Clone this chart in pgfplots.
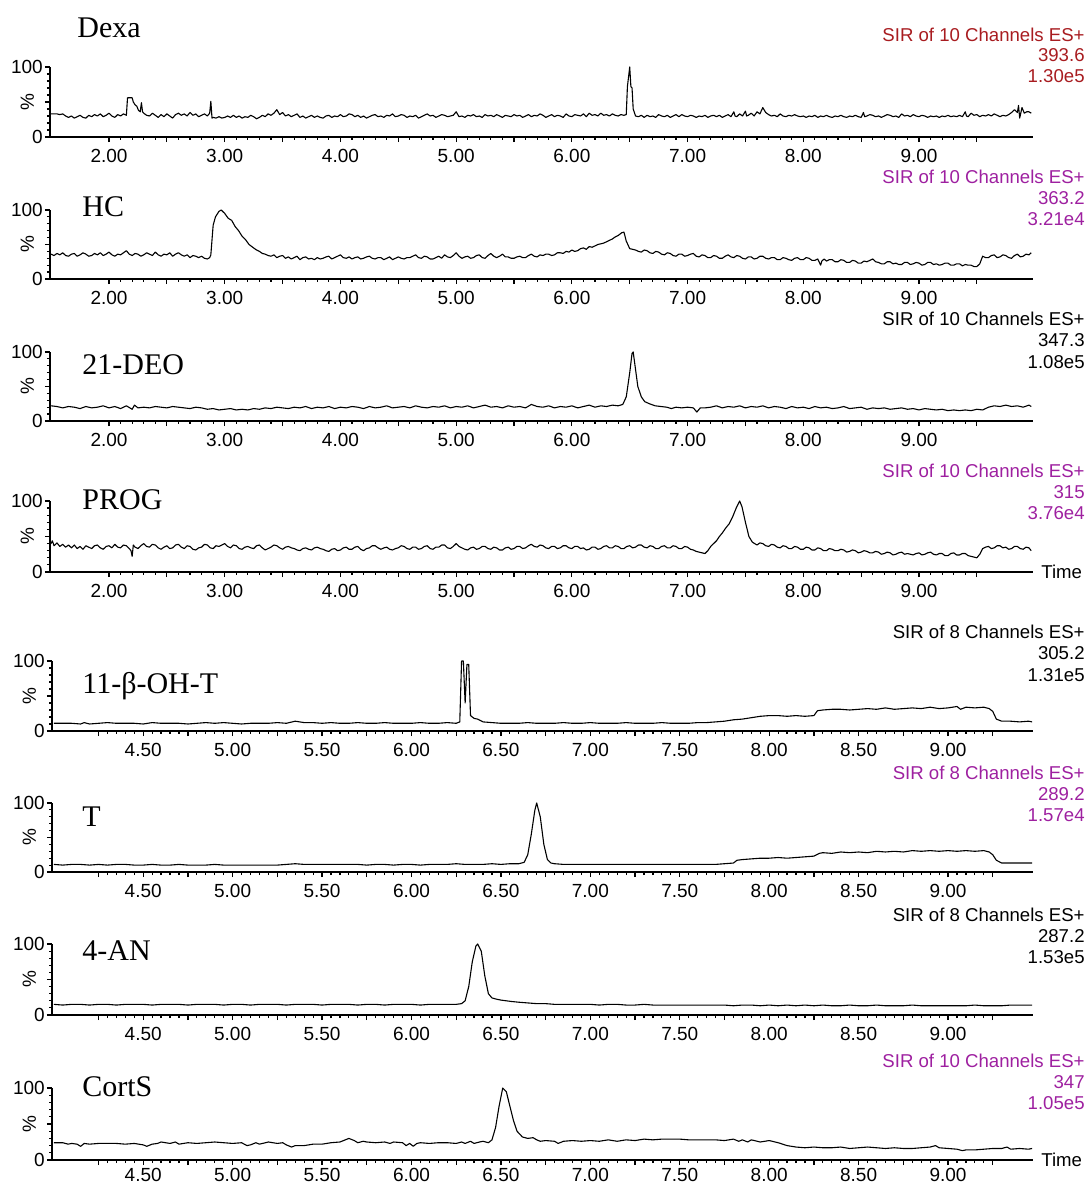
\documentclass[border=0pt]{standalone}
\usepackage{fontspec}
\setmainfont{Liberation Sans}
\newfontfamily\serifnames{Liberation Serif}
\usepackage{pgfplots}
\pgfplotsset{compat=1.18}
\definecolor{sirred}{RGB}{168,28,32}
\definecolor{sirmag}{RGB}{158,32,160}
\pgfplotsset{
 chrom/.style={
  scale only axis, height=35pt,
  axis x line=bottom, axis y line=left,
  axis line style={line width=0.8pt,-},
  ymin=0, ymax=100, ytick={0,50,100}, yticklabels={0,,100},
  minor y tick num=4,
  tick align=outside, major tick length=2.6pt, minor tick length=1.5pt,
  every tick/.style={black,line width=0.6pt},
  tick label style={font=\fontsize{9.5}{10}\selectfont},
  yticklabel style={xshift=2.5pt},
  /pgf/number format/assume math mode=true,
  clip=false,
  ylabel={\%},
  ylabel style={at={(axis description cs:-0.023,0.5)}, anchor=center, font=\fontsize{9.5}{10}\selectfont},
 },
 toppanel/.style={chrom, width=491.5pt, xmin=1.49, xmax=9.985,
  xtick={2,2.5,3,3.5,4,4.5,5,5.5,6,6.5,7,7.5,8,8.5,9,9.5},
  xticklabels={2.00,,3.00,,4.00,,5.00,,6.00,,7.00,,8.00,,9.00,},
  minor x tick num=4},
 botpanel/.style={chrom, width=490.5pt, xmin=3.99, xmax=9.475,
  xtick={4.25,4.5,4.75,5,5.25,5.5,5.75,6,6.25,6.5,6.75,7,7.25,7.5,7.75,8,8.25,8.5,8.75,9,9.25},
  xticklabels={,4.50,,5.00,,5.50,,6.00,,6.50,,7.00,,7.50,,8.00,,8.50,,9.00,},
  minor x tick num=4},
 trace/.style={black, line width=0.55pt, mark=none, line join=round},
}
\newcommand{\sirlabel}[3]{%
 \node[anchor=east,inner sep=0pt,text=#1,font=\fontsize{9.3}{10}\selectfont] at (542.5pt,#2) {SIR of #3 Channels ES+};}
\newcommand{\sirline}[3]{%
 \node[anchor=east,inner sep=0pt,text=#1,font=\fontsize{9.3}{10}\selectfont] at (542.5pt,#2) {#3};}
\newcommand{\cname}[3]{%
 \node[anchor=base west,inner sep=0pt,font=\serifnames\fontsize{15}{16}\selectfont] at (#1,#2) {#3};}
\begin{document}
\begin{tikzpicture}
\useasboundingbox (0,0) rectangle (544.5pt,592.5pt);

% ---------- Panel 1: Dexa ----------
\begin{axis}[toppanel, at={(25pt,524pt)}, anchor=south west, height=35pt]
\addplot[trace] coordinates {
(1.500,33)(1.525,33)(1.550,33)(1.575,32)(1.600,33)(1.625,30)(1.650,28)(1.675,30)(1.700,27)(1.725,29)
(1.750,31)(1.775,28)(1.800,27)(1.825,31)(1.850,29)(1.875,32)(1.900,30)(1.925,33)(1.950,29)(1.975,31)
(2.000,34)(2.025,30)(2.050,28)(2.075,32)(2.100,30)(2.125,33)(2.150,31)(2.160,56)(2.200,56)(2.210,50)
(2.225,46)(2.240,44)(2.255,38)(2.270,36)(2.280,49)(2.290,36)(2.300,34)(2.325,31)
(2.350,30)(2.375,34)(2.400,31)(2.425,28)(2.450,32)(2.475,29)(2.500,33)(2.525,30)(2.550,27)(2.575,32)
(2.600,34)(2.625,31)(2.650,33)(2.675,30)(2.700,35)(2.725,31)(2.750,33)(2.775,29)(2.800,31)(2.825,33)
(2.850,30)(2.870,34)(2.880,51)(2.890,27)(2.900,28)(2.925,27)(2.950,29)(2.975,27)(3.000,28)(3.025,30)
(3.050,28)(3.075,31)(3.100,28)(3.125,30)(3.150,27)(3.175,29)(3.200,28)(3.225,31)(3.250,29)(3.275,26)
(3.300,28)(3.325,31)(3.350,29)(3.375,33)(3.400,31)(3.425,34)(3.450,39)(3.475,32)(3.500,35)(3.525,30)
(3.550,32)(3.575,29)(3.600,31)(3.625,33)(3.650,28)(3.675,30)(3.700,27)(3.725,29)(3.750,31)(3.775,28)
(3.800,30)(3.825,28)(3.850,27)(3.875,30)(3.900,31)(3.925,28)(3.950,30)(3.975,29)(4.000,32)(4.025,29)
(4.050,30)(4.075,33)(4.100,32)(4.125,29)(4.150,31)(4.175,28)(4.200,30)(4.225,27)(4.250,29)(4.275,31)
(4.300,32)(4.325,29)(4.350,30)(4.375,28)(4.400,31)(4.425,30)(4.450,33)(4.475,29)(4.500,30)(4.525,32)
(4.550,31)(4.575,28)(4.600,30)(4.625,29)(4.650,31)(4.675,27)(4.700,29)(4.725,31)(4.750,33)(4.775,30)
(4.800,31)(4.825,28)(4.850,30)(4.875,32)(4.900,31)(4.925,29)(4.950,30)(4.975,31)(5.000,36)(5.025,29)
(5.050,30)(5.075,28)(5.100,31)(5.125,30)(5.150,32)(5.175,29)(5.200,30)(5.225,28)(5.250,32)(5.275,30)
(5.300,31)(5.325,29)(5.350,32)(5.375,30)(5.400,28)(5.425,31)(5.450,30)(5.475,29)(5.500,32)(5.525,30)
(5.550,31)(5.575,28)(5.600,30)(5.625,32)(5.650,29)(5.675,31)(5.700,30)(5.725,33)(5.750,31)(5.775,28)
(5.800,30)(5.825,32)(5.850,29)(5.875,31)(5.900,30)(5.925,28)(5.950,33)(5.975,30)(6.000,29)(6.025,32)
(6.050,31)(6.075,30)(6.100,33)(6.125,29)(6.150,34)(6.175,31)(6.200,32)(6.225,30)(6.250,34)(6.275,31)
(6.300,32)(6.325,30)(6.350,33)(6.375,31)(6.400,30)(6.425,32)(6.450,31)(6.470,32)(6.480,72)(6.500,100)
(6.510,72)(6.520,70)(6.530,40)(6.550,30)
(6.575,29)(6.600,31)(6.625,28)(6.650,31)(6.675,29)(6.700,30)(6.725,28)(6.750,32)(6.775,30)(6.800,29)
(6.825,31)(6.850,28)(6.875,30)(6.900,32)(6.925,29)(6.950,32)(6.975,30)(7.000,29)(7.025,31)(7.050,30)
(7.075,28)(7.100,30)(7.125,29)(7.150,31)(7.175,28)(7.200,30)(7.225,31)(7.250,29)(7.275,31)(7.300,28)
(7.325,30)(7.350,32)(7.375,29)(7.400,36)(7.410,30)(7.425,29)(7.450,33)(7.475,30)(7.500,37)(7.510,30)(7.525,31)
(7.550,34)(7.575,30)(7.600,36)(7.625,33)(7.650,42)(7.675,35)(7.700,32)(7.725,30)(7.750,31)(7.775,29)
(7.800,33)(7.825,30)(7.850,29)(7.875,31)(7.900,30)(7.925,32)(7.950,30)(7.975,29)(8.000,30)(8.025,28)
(8.050,30)(8.075,29)(8.100,31)(8.125,28)(8.150,30)(8.175,29)(8.200,31)(8.225,29)(8.250,28)(8.275,30)
(8.300,29)(8.325,31)(8.350,29)(8.375,28)(8.400,30)(8.425,29)(8.450,31)(8.475,29)(8.500,28)(8.520,35)(8.530,29)
(8.550,30)(8.575,32)(8.600,31)(8.625,29)(8.650,30)(8.675,28)(8.700,30)(8.725,32)(8.750,31)(8.775,29)
(8.800,30)(8.825,28)(8.850,33)(8.875,30)(8.900,31)(8.925,29)(8.950,32)(8.975,30)(9.000,29)(9.025,31)
(9.050,30)(9.075,28)(9.100,30)(9.125,29)(9.150,30)(9.175,28)(9.200,30)(9.225,29)(9.250,31)(9.275,29)
(9.300,30)(9.325,29)(9.350,31)(9.375,29)(9.400,36)(9.410,30)(9.425,29)(9.450,34)(9.475,31)(9.500,32)
(9.525,29)(9.550,31)(9.575,30)(9.600,32)(9.625,30)(9.650,33)(9.675,31)(9.700,29)(9.725,31)(9.750,30)
(9.775,32)(9.800,35)(9.825,39)(9.850,35)(9.860,45)(9.870,27)(9.890,42)(9.910,34)(9.930,36)(9.950,36)(9.970,34)};
\end{axis}

% ---------- Panel 2: HC ----------
\begin{axis}[toppanel, at={(25pt,453pt)}, anchor=south west, height=34.5pt]
\addplot[trace] coordinates {
(1.500,36)(1.525,34)(1.550,37)(1.575,35)(1.600,38)(1.625,34)(1.650,33)(1.675,36)(1.700,37)(1.725,33)
(1.750,35)(1.775,38)(1.800,36)(1.825,33)(1.850,34)(1.875,37)(1.900,35)(1.925,38)(1.950,34)(1.975,36)
(2.000,39)(2.025,35)(2.050,33)(2.075,36)(2.100,35)(2.125,38)(2.150,41)(2.175,36)(2.200,34)(2.225,37)
(2.250,36)(2.275,33)(2.300,35)(2.325,38)(2.350,36)(2.375,34)(2.400,39)(2.425,35)(2.450,33)(2.475,36)
(2.500,35)(2.525,38)(2.550,33)(2.575,36)(2.600,38)(2.625,35)(2.650,33)(2.675,35)(2.700,31)(2.725,34)
(2.750,33)(2.775,31)(2.800,33)(2.825,30)(2.850,29)(2.870,31)(2.880,35)(2.900,78)(2.920,90)(2.950,98)
(2.970,100)(3.000,95)(3.030,88)(3.060,85)(3.090,76)(3.120,70)(3.150,62)(3.180,57)(3.210,50)(3.250,45)
(3.275,42)(3.300,40)(3.325,37)
(3.350,36)(3.375,34)(3.400,33)(3.425,35)(3.450,31)(3.475,33)(3.500,34)(3.525,30)(3.550,32)(3.575,29)
(3.600,31)(3.625,33)(3.650,28)(3.675,31)(3.700,32)(3.725,29)(3.750,30)(3.775,28)(3.800,31)(3.825,29)
(3.850,30)(3.875,32)(3.900,33)(3.925,29)(3.950,31)(3.975,33)(4.000,35)(4.025,31)(4.050,30)(4.075,32)
(4.100,29)(4.125,31)(4.150,32)(4.175,29)(4.200,30)(4.225,32)(4.250,33)(4.275,30)(4.300,29)(4.325,31)
(4.350,31)(4.375,28)(4.400,30)(4.425,32)(4.450,28)(4.475,30)(4.500,32)(4.525,30)(4.550,29)(4.575,31)
(4.600,31)(4.625,33)(4.650,35)(4.675,31)(4.700,30)(4.725,33)(4.750,32)(4.775,29)(4.800,29)(4.825,31)
(4.850,33)(4.875,30)(4.900,35)(4.925,32)(4.950,31)(4.975,34)(5.000,38)(5.025,33)(5.050,30)(5.075,32)
(5.100,33)(5.125,30)(5.150,31)(5.175,34)(5.200,35)(5.225,31)(5.250,30)(5.275,34)(5.300,37)(5.325,33)
(5.350,31)(5.375,33)(5.400,36)(5.425,32)(5.450,32)(5.475,30)(5.500,30)(5.525,32)(5.550,33)(5.575,31)
(5.600,31)(5.625,34)(5.650,36)(5.675,33)(5.700,32)(5.725,35)(5.750,34)(5.775,36)(5.800,36)(5.825,34)
(5.850,35)(5.875,38)(5.900,38)(5.925,37)(5.950,40)(5.975,39)(6.000,42)(6.025,40)(6.050,41)(6.075,44)
(6.100,45)(6.125,43)(6.150,47)(6.175,46)(6.200,48)(6.225,50)(6.250,51)(6.275,52)(6.300,54)(6.325,56)
(6.350,58)(6.375,61)(6.400,63)(6.430,67)(6.450,68)(6.470,55)(6.500,44)(6.525,43)(6.550,42)(6.575,40)
(6.600,39)(6.625,42)(6.650,41)(6.675,38)(6.700,37)(6.725,40)(6.750,39)(6.775,36)(6.800,35)(6.825,38)
(6.850,37)(6.875,34)(6.900,33)(6.925,36)(6.950,36)(6.975,33)(7.000,34)(7.025,36)(7.050,37)(7.075,33)
(7.100,32)(7.125,35)(7.150,34)(7.175,31)(7.200,31)(7.225,34)(7.250,33)(7.275,30)(7.300,30)(7.325,33)
(7.350,35)(7.375,32)(7.400,31)(7.425,34)(7.450,33)(7.475,30)(7.500,29)(7.525,32)(7.550,32)(7.575,29)
(7.600,30)(7.625,33)(7.650,33)(7.675,30)(7.700,29)(7.725,31)(7.750,31)(7.775,28)(7.800,28)(7.825,31)
(7.850,30)(7.875,28)(7.900,27)(7.925,30)(7.950,31)(7.975,28)(8.000,28)(8.025,31)(8.050,30)(8.075,27)
(8.100,27)(8.125,29)(8.150,20)(8.160,26)(8.180,29)(8.200,26)(8.225,28)(8.250,28)(8.275,25)(8.300,25)(8.325,28)
(8.350,27)(8.375,24)(8.400,24)(8.425,27)(8.450,26)(8.475,23)(8.500,23)(8.525,26)(8.550,25)(8.575,27)
(8.600,29)(8.625,25)(8.650,24)(8.675,22)(8.700,22)(8.725,25)(8.750,25)(8.775,22)(8.800,23)(8.825,21)
(8.850,21)(8.875,24)(8.900,24)(8.925,21)(8.950,22)(8.975,24)(9.000,23)(9.025,20)(9.050,21)(9.075,24)
(9.100,24)(9.125,21)(9.150,22)(9.175,20)(9.200,21)(9.225,23)(9.250,23)(9.275,20)(9.300,20)(9.325,22)
(9.350,22)(9.375,19)(9.400,21)(9.425,20)(9.450,20)(9.475,18)(9.500,18)(9.525,22)(9.550,33)(9.575,31)
(9.600,31)(9.625,34)(9.650,35)(9.675,31)(9.700,32)(9.725,35)(9.750,34)(9.775,31)(9.800,30)(9.825,34)
(9.850,36)(9.875,32)(9.900,33)(9.925,36)(9.950,35)(9.970,38)};
\end{axis}

% ---------- Panel 3: 21-DEO ----------
\begin{axis}[toppanel, at={(25pt,382pt)}, anchor=south west, height=34.5pt]
\addplot[trace] coordinates {
(1.50,22)(1.55,21)(1.60,19)(1.65,21)(1.70,20)(1.75,18)(1.80,21)(1.85,19)(1.90,20)(1.95,22)
(2.00,19)(2.05,21)(2.10,18)(2.15,22)(2.20,17)(2.22,23)(2.25,19)(2.30,20)(2.35,19)(2.40,21)
(2.45,20)(2.50,19)(2.55,21)(2.60,20)(2.65,19)(2.70,18)(2.75,20)(2.80,19)(2.85,17)(2.90,18)
(2.95,16)(3.00,17)(3.05,18)(3.10,16)(3.15,17)(3.20,16)(3.25,18)(3.30,17)(3.35,19)(3.40,18)
(3.45,20)(3.50,19)(3.55,18)(3.60,20)(3.65,19)(3.70,21)(3.75,18)(3.80,20)(3.85,19)(3.90,21)
(3.95,18)(4.00,20)(4.05,19)(4.10,21)(4.15,20)(4.20,18)(4.25,21)(4.30,19)(4.35,20)(4.40,22)
(4.45,19)(4.50,20)(4.55,21)(4.60,19)(4.65,22)(4.70,20)(4.75,19)(4.80,21)(4.85,20)(4.90,22)
(4.95,19)(5.00,21)(5.05,20)(5.10,22)(5.15,19)(5.20,21)(5.25,23)(5.30,20)(5.35,21)(5.40,19)
(5.45,22)(5.50,20)(5.55,21)(5.60,19)(5.65,24)(5.70,21)(5.75,20)(5.80,22)(5.85,19)(5.90,21)
(5.95,20)(6.00,22)(6.05,19)(6.10,21)(6.15,23)(6.20,20)(6.25,22)(6.30,21)(6.35,23)(6.40,22)
(6.44,24)(6.47,35)(6.50,70)(6.52,98)(6.53,100)(6.55,75)(6.57,50)(6.60,35)(6.63,28)(6.67,25)
(6.72,22)(6.77,21)(6.82,20)(6.86,18)(6.90,20)(6.95,19)(7.00,20)(7.05,19)(7.08,13)(7.11,19)
(7.15,19)(7.20,20)(7.25,22)(7.30,19)(7.35,21)(7.40,20)(7.45,22)(7.50,19)(7.55,21)(7.60,20)
(7.65,22)(7.70,19)(7.75,21)(7.80,20)(7.85,18)(7.90,21)(7.95,19)(8.00,20)(8.05,18)(8.10,21)
(8.15,19)(8.20,20)(8.25,18)(8.30,19)(8.35,21)(8.40,18)(8.45,19)(8.50,20)(8.55,17)(8.60,19)
(8.65,18)(8.70,19)(8.75,17)(8.80,18)(8.85,19)(8.90,17)(8.95,18)(9.00,16)(9.05,18)(9.10,17)
(9.15,16)(9.20,17)(9.25,15)(9.30,16)(9.35,15)(9.40,16)(9.45,15)(9.50,17)(9.55,16)(9.60,20)
(9.65,22)(9.70,21)(9.75,23)(9.80,21)(9.85,22)(9.90,20)(9.95,23)(9.97,21)};
\end{axis}

% ---------- Panel 4: PROG ----------
\begin{axis}[toppanel, at={(25pt,306.5pt)}, anchor=south west, height=35.5pt]
\addplot[trace] coordinates {
(1.500,40)(1.510,44)(1.525,37)(1.550,41)(1.575,36)(1.600,39)(1.625,35)(1.650,38)(1.675,34)(1.700,38)
(1.725,33)(1.750,36)(1.775,32)(1.800,37)(1.825,35)(1.850,33)(1.875,37)(1.900,38)(1.925,34)(1.950,32)
(1.975,36)(2.000,37)(2.025,34)(2.050,39)(2.075,35)(2.100,34)(2.125,38)(2.150,37)(2.175,33)(2.190,30)
(2.200,22)(2.210,38)
(2.225,35)(2.250,33)(2.275,37)(2.300,40)(2.325,36)(2.350,35)(2.375,39)(2.400,38)(2.425,34)(2.450,32)
(2.475,35)(2.500,37)(2.525,33)(2.550,34)(2.575,38)(2.600,39)(2.625,35)(2.650,33)(2.675,37)(2.700,36)
(2.725,32)(2.750,31)(2.775,34)(2.800,35)(2.825,39)(2.850,38)(2.875,34)(2.900,33)(2.925,37)(2.950,36)
(2.975,38)(3.000,40)(3.025,36)(3.050,34)(3.075,38)(3.100,37)(3.125,33)(3.150,32)(3.175,35)(3.200,36)
(3.225,34)(3.250,33)(3.275,37)(3.300,38)(3.325,34)(3.350,31)(3.375,33)(3.400,35)(3.425,38)(3.450,37)
(3.475,34)(3.500,32)(3.525,35)(3.550,36)(3.575,34)(3.600,33)(3.625,31)(3.650,30)(3.675,33)(3.700,34)
(3.725,32)(3.750,31)(3.775,34)(3.800,35)(3.825,33)(3.850,32)(3.875,30)(3.900,29)(3.925,32)(3.950,33)
(3.975,30)(4.000,31)(4.025,34)(4.050,35)(4.075,32)(4.100,32)(4.125,35)(4.150,36)(4.175,32)(4.200,30)
(4.225,33)(4.250,34)(4.275,37)(4.300,37)(4.325,34)(4.350,32)(4.375,34)(4.400,35)(4.425,32)(4.450,31)
(4.475,33)(4.500,34)(4.525,37)(4.550,36)(4.575,33)(4.600,32)(4.625,35)(4.650,35)(4.675,32)(4.700,33)
(4.725,36)(4.750,37)(4.775,33)(4.800,32)(4.825,35)(4.850,35)(4.875,38)(4.900,38)(4.925,34)(4.950,33)
(4.975,36)(5.000,40)(5.025,36)(5.050,34)(5.075,32)(5.100,31)(5.125,34)(5.150,35)(5.175,32)(5.200,33)
(5.225,36)(5.250,36)(5.275,33)(5.300,32)(5.325,35)(5.350,34)(5.375,31)(5.400,31)(5.425,34)(5.450,35)
(5.475,32)(5.500,33)(5.525,36)(5.550,36)(5.575,33)(5.600,34)(5.625,37)(5.650,39)(5.675,36)(5.700,35)
(5.725,38)(5.750,37)(5.775,34)(5.800,33)(5.825,36)(5.850,36)(5.875,33)(5.900,34)(5.925,37)(5.950,37)
(5.975,34)(6.000,33)(6.025,36)(6.050,36)(6.075,33)(6.100,34)(6.125,31)(6.150,32)(6.175,35)(6.200,35)
(6.225,32)(6.250,33)(6.275,36)(6.300,37)(6.325,34)(6.350,34)(6.375,37)(6.400,36)(6.425,33)(6.450,33)
(6.475,36)(6.500,37)(6.525,34)(6.550,35)(6.575,38)(6.600,38)(6.625,35)(6.650,34)(6.675,37)(6.700,36)
(6.725,33)(6.750,33)(6.775,36)(6.800,37)(6.825,34)(6.850,34)(6.875,37)(6.900,36)(6.925,33)(6.950,33)
(6.975,36)(7.000,35)(7.025,32)(7.050,31)(7.075,29)(7.100,28)(7.125,27)(7.150,26)(7.175,30)(7.200,36)
(7.225,40)(7.250,44)(7.275,50)(7.300,55)(7.330,62)(7.360,68)(7.390,78)(7.420,90)(7.450,100)(7.470,92)
(7.500,70)(7.530,50)(7.560,42)(7.580,40)
(7.600,38)(7.625,41)(7.650,40)(7.675,37)(7.700,36)(7.725,39)(7.750,38)(7.775,35)(7.800,34)(7.825,37)
(7.850,36)(7.875,33)(7.900,33)(7.925,36)(7.950,35)(7.975,32)(8.000,32)(8.025,35)(8.050,34)(8.075,31)
(8.100,31)(8.125,34)(8.150,33)(8.175,30)(8.200,30)(8.225,33)(8.250,32)(8.275,30)(8.300,30)(8.325,32)
(8.350,31)(8.375,28)(8.400,29)(8.425,31)(8.450,30)(8.475,27)(8.500,28)(8.525,30)(8.550,29)(8.575,27)
(8.600,27)(8.625,29)(8.650,28)(8.675,25)(8.700,26)(8.725,28)(8.750,27)(8.775,24)(8.800,25)(8.825,27)
(8.850,28)(8.875,25)(8.900,26)(8.925,25)(8.950,24)(8.975,26)(9.000,27)(9.025,24)(9.050,25)(9.075,27)
(9.100,28)(9.125,25)(9.150,24)(9.175,26)(9.200,26)(9.225,23)(9.250,23)(9.275,26)(9.300,27)(9.325,24)
(9.350,24)(9.375,26)(9.400,26)(9.425,23)(9.450,22)(9.475,21)(9.500,20)(9.525,25)(9.550,33)(9.575,35)
(9.600,36)(9.625,33)(9.650,34)(9.675,37)(9.700,37)(9.725,34)(9.750,35)(9.775,32)(9.800,33)(9.825,36)
(9.850,36)(9.875,33)(9.900,32)(9.925,35)(9.950,34)(9.970,30)};
\node[anchor=west,inner sep=0pt,font=\fontsize{9.3}{10}\selectfont] at (axis description cs:1,0) [xshift=4pt] {Time};
\end{axis}

% ---------- Panel 5: 11-beta-OH-T ----------
\begin{axis}[botpanel, at={(26pt,227pt)}, anchor=south west, height=35pt]
\addplot[trace] coordinates {
(4.00,11)(4.05,11)(4.10,11)(4.15,10)(4.17,12)(4.20,10)(4.25,11)(4.30,12)(4.35,11)(4.40,11)
(4.45,11)(4.50,10)(4.55,12)(4.60,11)(4.65,11)(4.70,11)(4.75,10)(4.80,11)(4.85,12)(4.90,11)
(4.95,12)(5.00,11)(5.05,10)(5.10,11)(5.15,11)(5.20,11)(5.25,12)(5.30,11)(5.35,14)(5.40,12)
(5.45,12)(5.50,11)(5.55,12)(5.60,11)(5.65,11)(5.70,12)(5.75,11)(5.80,11)(5.85,12)(5.90,11)
(5.95,11)(6.00,11)(6.05,12)(6.10,11)(6.15,11)(6.20,12)(6.25,11)(6.27,13)(6.28,100)(6.29,100)
(6.30,40)(6.31,95)(6.32,95)(6.33,22)(6.35,18)(6.37,17)(6.40,13)(6.45,12)(6.50,11)(6.55,11)
(6.60,11)(6.65,12)(6.70,11)(6.75,11)(6.80,11)(6.85,12)(6.90,11)(6.95,11)(7.00,12)(7.05,11)
(7.10,11)(7.15,11)(7.20,12)(7.25,11)(7.30,11)(7.35,11)(7.40,12)(7.45,11)(7.50,11)(7.55,11)
(7.60,12)(7.65,12)(7.70,13)(7.75,14)(7.80,16)(7.85,17)(7.90,19)(7.95,21)(8.00,22)(8.05,22)
(8.10,21)(8.15,22)(8.20,21)(8.25,22)(8.27,29)(8.30,30)(8.35,31)(8.40,31)(8.45,30)(8.50,31)
(8.55,32)(8.60,31)(8.65,33)(8.70,31)(8.75,32)(8.80,33)(8.85,32)(8.90,34)(8.95,32)(9.00,33)
(9.05,35)(9.07,31)(9.10,34)(9.15,33)(9.20,34)(9.23,32)(9.25,28)(9.27,17)(9.30,14)(9.35,14)
(9.40,13)(9.45,14)(9.47,13)};
\end{axis}

% ---------- Panel 6: T ----------
\begin{axis}[botpanel, at={(26pt,156.5pt)}, anchor=south west, height=34.5pt]
\addplot[trace] coordinates {
(4.00,11)(4.05,10)(4.10,11)(4.15,11)(4.20,10)(4.25,11)(4.30,10)(4.35,11)(4.40,11)(4.45,10)
(4.50,10)(4.55,11)(4.60,10)(4.65,10)(4.70,11)(4.75,10)(4.80,10)(4.85,10)(4.90,11)(4.95,10)
(5.00,10)(5.05,10)(5.10,10)(5.15,10)(5.20,10)(5.25,10)(5.30,11)(5.35,12)(5.40,11)(5.45,11)
(5.50,11)(5.55,11)(5.60,11)(5.65,11)(5.70,11)(5.75,10)(5.80,11)(5.85,11)(5.90,10)(5.95,11)
(6.00,11)(6.05,10)(6.10,11)(6.15,11)(6.20,11)(6.25,12)(6.30,11)(6.35,11)(6.40,11)(6.45,12)
(6.50,11)(6.55,12)(6.60,12)(6.63,14)(6.65,25)(6.67,55)(6.69,90)(6.70,100)(6.72,80)(6.74,40)
(6.76,18)(6.78,13)(6.80,12)(6.85,11)(6.90,11)(6.95,11)(7.00,11)(7.05,11)(7.10,11)(7.15,11)
(7.20,11)(7.25,11)(7.30,11)(7.35,11)(7.40,11)(7.45,11)(7.50,11)(7.55,11)(7.60,11)(7.65,11)
(7.70,11)(7.75,12)(7.80,13)(7.82,17)(7.85,18)(7.90,19)(7.95,20)(8.00,20)(8.05,21)(8.10,20)
(8.15,21)(8.20,22)(8.25,23)(8.28,27)(8.30,28)(8.35,27)(8.40,29)(8.45,28)(8.50,29)(8.55,28)
(8.60,30)(8.65,29)(8.70,30)(8.75,29)(8.80,31)(8.85,30)(8.90,31)(8.95,30)(9.00,31)(9.05,30)
(9.10,31)(9.15,30)(9.20,31)(9.23,29)(9.25,25)(9.27,17)(9.30,13)(9.35,13)(9.40,13)(9.45,13)
(9.47,13)};
\end{axis}

% ---------- Panel 7: 4-AN ----------
\begin{axis}[botpanel, at={(26pt,85pt)}, anchor=south west, height=35.5pt]
\addplot[trace] coordinates {
(4.00,15)(4.05,14)(4.10,15)(4.15,15)(4.20,14)(4.25,15)(4.30,15)(4.35,14)(4.40,15)(4.45,15)
(4.50,15)(4.55,14)(4.60,15)(4.65,15)(4.70,15)(4.75,14)(4.80,15)(4.85,15)(4.90,15)(4.95,14)
(5.00,15)(5.05,15)(5.10,14)(5.15,15)(5.20,15)(5.25,15)(5.30,14)(5.35,15)(5.40,15)(5.45,15)
(5.50,14)(5.55,15)(5.60,15)(5.65,15)(5.70,14)(5.75,15)(5.80,15)(5.85,14)(5.90,15)(5.95,15)
(6.00,15)(6.05,14)(6.10,15)(6.15,15)(6.20,15)(6.25,15)(6.28,16)(6.30,20)(6.32,40)(6.34,75)
(6.36,97)(6.37,100)(6.39,90)(6.41,55)(6.43,30)(6.45,24)(6.48,22)(6.50,21)(6.53,20)(6.56,19)
(6.60,18)(6.65,17)(6.70,16)(6.75,16)(6.80,15)(6.85,15)(6.90,15)(6.95,15)(7.00,15)(7.05,14)
(7.10,15)(7.15,15)(7.20,14)(7.25,14)(7.30,15)(7.35,14)(7.40,14)(7.45,14)(7.50,14)(7.55,14)
(7.60,14)(7.65,14)(7.70,14)(7.75,14)(7.80,13)(7.85,14)(7.90,14)(7.95,13)(8.00,14)(8.05,13)
(8.10,14)(8.15,13)(8.20,14)(8.25,13)(8.30,14)(8.35,13)(8.40,13)(8.45,14)(8.50,13)(8.55,13)
(8.60,14)(8.65,13)(8.70,13)(8.75,13)(8.80,14)(8.85,13)(8.90,13)(8.95,13)(9.00,13)(9.05,13)
(9.10,13)(9.15,14)(9.20,13)(9.25,13)(9.30,13)(9.35,14)(9.40,14)(9.45,14)(9.47,14)};
\end{axis}

% ---------- Panel 8: CortS ----------
\begin{axis}[botpanel, at={(26pt,12.5pt)}, anchor=south west, height=36pt, xticklabel style={yshift=1.8pt}]
\addplot[trace] coordinates {
(4.00,24)(4.05,24)(4.08,22)(4.10,23)(4.13,22)(4.15,19)(4.17,23)(4.20,22)(4.25,23)(4.30,23)
(4.35,23)(4.40,22)(4.45,23)(4.50,21)(4.52,19)(4.55,22)(4.58,23)(4.60,25)(4.65,23)(4.68,25)
(4.70,22)(4.75,24)(4.80,23)(4.85,24)(4.90,25)(4.95,24)(5.00,23)(5.05,24)(5.08,20)(5.10,21)
(5.13,24)(5.15,22)(5.20,25)(5.25,23)(5.28,24)(5.30,21)(5.33,18)(5.35,20)(5.40,20)(5.45,22)
(5.50,22)(5.55,24)(5.60,25)(5.63,28)(5.65,30)(5.68,27)(5.70,24)(5.73,26)(5.75,25)(5.80,24)
(5.85,25)(5.88,23)(5.90,25)(5.95,24)(5.97,20)(5.99,23)(6.01,19)(6.03,23)(6.05,24)(6.10,23)
(6.15,24)(6.20,24)(6.25,23)(6.28,25)(6.30,23)(6.33,26)(6.35,23)(6.38,25)(6.40,26)(6.43,24)
(6.45,28)(6.47,45)(6.49,75)(6.51,100)(6.53,95)(6.55,75)(6.57,55)(6.59,40)(6.62,32)(6.65,30)
(6.68,31)(6.70,28)(6.72,26)(6.75,27)(6.80,26)(6.82,23)(6.85,26)(6.90,27)(6.95,26)(7.00,27)
(7.05,26)(7.10,28)(7.15,26)(7.20,28)(7.25,27)(7.30,29)(7.35,28)(7.40,29)(7.45,29)(7.50,29)
(7.55,28)(7.60,28)(7.65,28)(7.70,28)(7.75,27)(7.80,29)(7.83,26)(7.85,28)(7.88,25)(7.90,28)
(7.95,25)(8.00,27)(8.05,24)(8.10,20)(8.15,18)(8.20,17)(8.25,18)(8.30,17)(8.35,17)(8.40,18)
(8.45,16)(8.50,17)(8.55,18)(8.60,17)(8.65,16)(8.70,17)(8.75,16)(8.80,16)(8.85,17)(8.90,18)
(8.93,20)(8.95,17)(9.00,16)(9.05,15)(9.08,13)(9.10,14)(9.15,14)(9.20,15)(9.25,16)(9.30,16)
(9.33,18)(9.35,15)(9.40,16)(9.45,15)(9.47,16)};
\node[anchor=west,inner sep=0pt,font=\fontsize{9.3}{10}\selectfont] at (axis description cs:1,0) [xshift=4pt] {Time};
\end{axis}

% ---------- compound names ----------
\cname{38.5pt}{573.75pt}{Dexa}
\cname{41pt}{484.25pt}{HC}
\cname{41pt}{405.25pt}{21-DEO}
\cname{41pt}{337.75pt}{PROG}
\cname{41pt}{245.5pt}{11-β-OH-T}
\cname{41pt}{179.25pt}{T}
\cname{41pt}{112.25pt}{4-AN}
\cname{41pt}{44.25pt}{CortS}

% ---------- SIR labels ----------
\sirlabel{sirred}{575.25pt}{10}
\sirline{sirred}{565pt}{393.6}
\sirline{sirred}{554.25pt}{1.30e5}
\sirlabel{sirmag}{504pt}{10}
\sirline{sirmag}{493.5pt}{363.2}
\sirline{sirmag}{483pt}{3.21e4}
\sirlabel{black}{433pt}{10}
\sirline{black}{422.5pt}{347.3}
\sirline{black}{411.5pt}{1.08e5}
\sirlabel{sirmag}{357pt}{10}
\sirline{sirmag}{346.5pt}{315}
\sirline{sirmag}{336pt}{3.76e4}
\sirlabel{black}{276.5pt}{8}
\sirline{black}{266pt}{305.2}
\sirline{black}{255pt}{1.31e5}
\sirlabel{sirmag}{206pt}{8}
\sirline{sirmag}{195.5pt}{289.2}
\sirline{sirmag}{185pt}{1.57e4}
\sirlabel{black}{135pt}{8}
\sirline{black}{124.5pt}{287.2}
\sirline{black}{114pt}{1.53e5}
\sirlabel{sirmag}{62pt}{10}
\sirline{sirmag}{51.5pt}{347}
\sirline{sirmag}{41pt}{1.05e5}
\end{tikzpicture}
\end{document}
